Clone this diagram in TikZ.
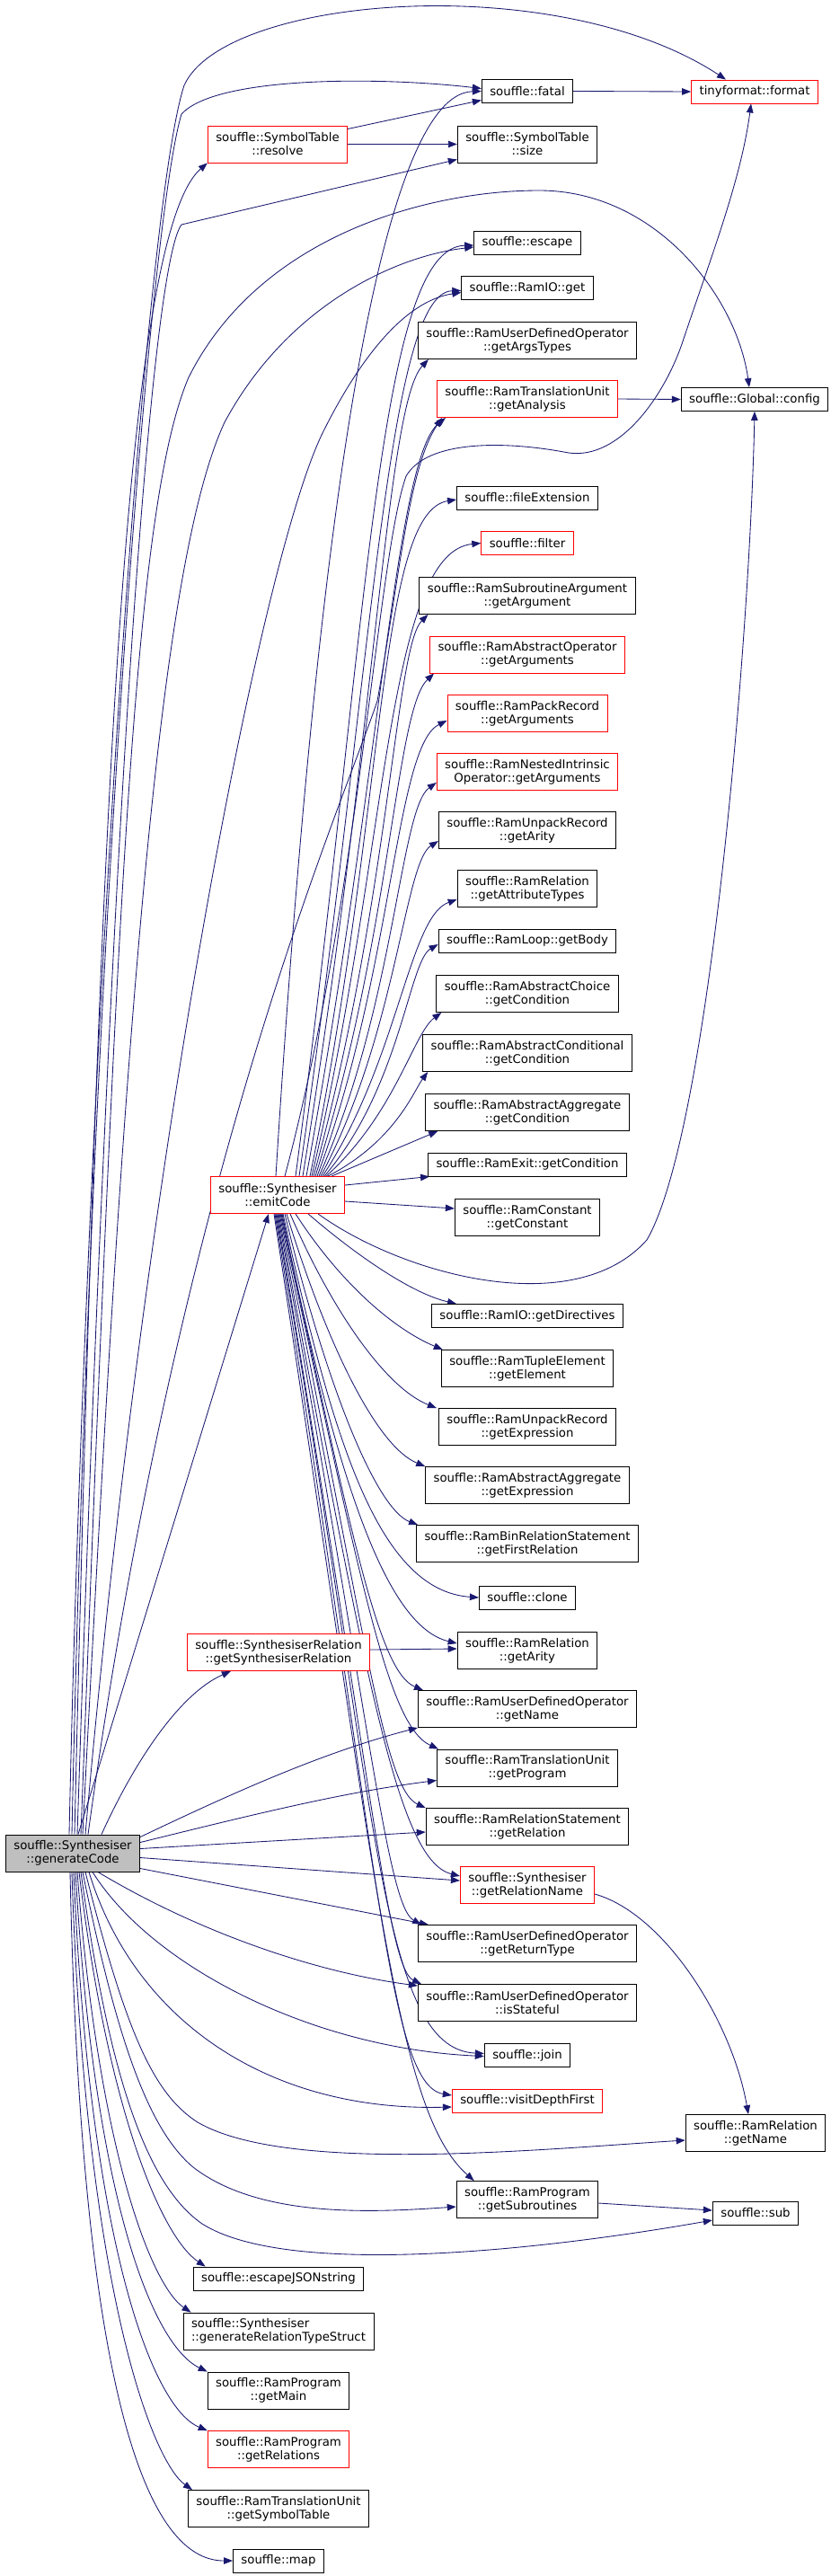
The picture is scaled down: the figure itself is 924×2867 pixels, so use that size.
\documentclass[tikz,border=0pt]{standalone}
\usepackage{fontspec}
\setmainfont{DejaVu Sans}
\usetikzlibrary{arrows.meta,backgrounds}
\definecolor{edgecol}{HTML}{191970}
\definecolor{rootfill}{HTML}{BFBFBF}
\definecolor{redb}{HTML}{FF0000}
\begin{document}
\begin{tikzpicture}[x=1pt,y=-1pt,
  box/.style={draw=black, line width=0.9pt, fill=white, font=\fontsize{13.3}{15}\selectfont, inner xsep=9pt, inner ysep=0pt, align=center},
  one/.style={box, minimum height=26pt},
  two/.style={box, minimum height=41pt},
  trunc/.style={draw=redb},
  rootbox/.style={fill=rootfill},
  e/.style={draw=edgecol, line width=0.85pt, -{Triangle[length=10pt,width=7.5pt]}}]
\useasboundingbox (0,0) rectangle (924,2867);
% root
\node[two,rootbox] (gc) at (81,2062.5) {souffle::Synthesiser\\::generateCode};
% column 2
\node[two,trunc] (res) at (309,160.5) {souffle::SymbolTable\\::resolve};
\node[two,trunc] (ec) at (309,1330) {souffle::Synthesiser\\::emitCode};
\node[two,trunc] (gsr) at (310,1839) {souffle::SynthesiserRelation\\::getSynthesiserRelation};
\node[one] (ejs) at (310,2536) {souffle::escapeJSONstring};
\node[two,align=left] (grts) at (310,2594.5) {souffle::Synthesiser\\::generateRelationTypeStruct};
\node[two] (gmain) at (310,2660.5) {souffle::RamProgram\\::getMain};
\node[two,trunc] (grels) at (310,2726) {souffle::RamProgram\\::getRelations};
\node[two] (gst) at (310,2792) {souffle::RamTranslationUnit\\::getSymbolTable};
\node[one] (map) at (310,2850) {souffle::map};
% column 3
\node[one] (fatal) at (587,101.5) {souffle::fatal};
\node[two] (size) at (587,160.5) {souffle::SymbolTable\\::size};
\node[one] (esc) at (587,270) {souffle::escape};
\node[one] (ioget) at (587,320.5) {souffle::RamIO::get};
\node[two] (argt) at (587,379) {souffle::RamUserDefinedOperator\\::getArgsTypes};
\node[two,trunc] (anal) at (587,444) {souffle::RamTranslationUnit\\::getAnalysis};
\node[one] (fext) at (587,554) {souffle::fileExtension};
\node[one,trunc] (filt) at (587,604.5) {souffle::filter};
\node[two] (garg) at (587,663) {souffle::RamSubroutineArgument\\::getArgument};
\node[two,trunc] (aoargs) at (587,728.5) {souffle::RamAbstractOperator\\::getArguments};
\node[two,trunc] (prargs) at (587,794) {souffle::RamPackRecord\\::getArguments};
\node[two,trunc] (nioargs) at (587,859) {souffle::RamNestedIntrinsic\\Operator::getArguments};
\node[two] (urarity) at (587,924) {souffle::RamUnpackRecord\\::getArity};
\node[two] (attr) at (587,989) {souffle::RamRelation\\::getAttributeTypes};
\node[one] (body) at (587,1047) {souffle::RamLoop::getBody};
\node[two] (chcond) at (587,1106) {souffle::RamAbstractChoice\\::getCondition};
\node[two] (cocond) at (587,1172) {souffle::RamAbstractConditional\\::getCondition};
\node[two] (agcond) at (587,1238) {souffle::RamAbstractAggregate\\::getCondition};
\node[one] (excond) at (587,1296) {souffle::RamExit::getCondition};
\node[two] (const) at (587,1355) {souffle::RamConstant\\::getConstant};
\node[one] (dirs) at (587,1464.5) {souffle::RamIO::getDirectives};
\node[two] (elem) at (587,1523) {souffle::RamTupleElement\\::getElement};
\node[two] (urexpr) at (587,1588) {souffle::RamUnpackRecord\\::getExpression};
\node[two] (agexpr) at (587,1653) {souffle::RamAbstractAggregate\\::getExpression};
\node[two] (first) at (587,1718) {souffle::RamBinRelationStatement\\::getFirstRelation};
\node[one] (clone) at (587,1778) {souffle::clone};
\node[two] (rarity) at (587,1837) {souffle::RamRelation\\::getArity};
\node[two] (udoname) at (587,1902) {souffle::RamUserDefinedOperator\\::getName};
\node[two] (prog) at (587,1967.5) {souffle::RamTranslationUnit\\::getProgram};
\node[two] (rel) at (587,2033) {souffle::RamRelationStatement\\::getRelation};
\node[two,trunc] (relname) at (587,2098) {souffle::Synthesiser\\::getRelationName};
\node[two] (rettype) at (587,2163) {souffle::RamUserDefinedOperator\\::getReturnType};
\node[two] (stateful) at (587,2229) {souffle::RamUserDefinedOperator\\::isStateful};
\node[one] (join) at (587,2287.5) {souffle::join};
\node[one,trunc] (vdf) at (587,2338) {souffle::visitDepthFirst};
\node[two] (subs) at (587,2448) {souffle::RamProgram\\::getSubroutines};
% column 4
\node[one,trunc] (fmt) at (840,102) {tinyformat::format};
\node[one] (cfg) at (840,444.5) {souffle::Global::config};
\node[two] (rname) at (841,2374) {souffle::RamRelation\\::getName};
\node[one] (sub) at (841,2463) {souffle::sub};

\begin{scope}[on background layer]
\fill[white] (0,0) rectangle (924,2867);
% short edges
\draw[e] ([yshift=17pt]res.east) -- ([yshift=-10pt]fatal.west);
\draw[e] (res.east) -- (size.west);
\draw[e] (fatal.east) -- (fmt.west);
\draw[e] (anal.east) -- (cfg.west);
\draw[e] ([yshift=3pt]gsr.east) -- ([yshift=2pt]rarity.west);
\draw[e] ([yshift=-10pt]relname.east) .. controls (740,2130) and (815,2250) .. ([xshift=-8pt]rname.north);
\draw[e] ([yshift=-4pt]subs.east) -- ([yshift=3pt]sub.west);
% emitCode upward
\draw[e] ([xshift=-2pt]ec.north) .. controls (345,700) and (410,105) .. (fatal.west);
\draw[e] ([xshift=8pt]ec.north) .. controls (400,1000) and (420,620) .. (452,530) .. controls (475,490) and (560,490) .. (633,504) .. controls (690,512) and (740,440) .. (760,380) .. controls (790,290) and (825,200) .. ([xshift=-4pt]fmt.south);
\draw[e] ([xshift=20pt]ec.north) .. controls (410,700) and (420,275) .. ([yshift=-3pt]esc.west);
\draw[e] ([xshift=24pt]ec.north) .. controls (415,750) and (430,325) .. ([yshift=-3pt]ioget.west);
\draw[e] ([xshift=28pt]ec.north) .. controls (420,800) and (430,450) .. ([xshift=12pt]argt.south west);
\draw[e] ([xshift=32pt]ec.north) .. controls (425,850) and (440,510) .. ([xshift=10pt]anal.south west);
\draw[e] ([xshift=36pt]ec.north) .. controls (430,900) and (420,570) .. ([yshift=-2pt]fext.west);
\draw[e] ([xshift=38pt]ec.north) .. controls (432,950) and (430,615) .. (filt.west);
\draw[e] ([xshift=40pt]ec.north) .. controls (434,1000) and (440,720) .. ([xshift=10pt]garg.south west);
\draw[e] ([xshift=42pt]ec.north) .. controls (436,1040) and (440,790) .. ([xshift=5pt]aoargs.south west);
\draw[e] ([xshift=44pt]ec.north) .. controls (438,1080) and (440,830) .. ([yshift=-8pt]prargs.west);
\draw[e] ([xshift=46pt]ec.north) .. controls (440,1120) and (445,900) .. ([yshift=-12pt]nioargs.west);
\draw[e] ([xshift=48pt]ec.north) .. controls (442,1150) and (450,960) .. ([yshift=-12pt]urarity.west);
\draw[e] ([xshift=50pt]ec.north) .. controls (444,1180) and (455,1020) .. ([yshift=-12pt]attr.west);
\draw[e] ([xshift=52pt]ec.north) .. controls (446,1210) and (455,1070) .. ([yshift=-4pt]body.west);
\draw[e] ([xshift=54pt]ec.north) .. controls (440,1240) and (460,1150) .. ([xshift=6pt]chcond.south west);
\draw[e] ([xshift=56pt]ec.north) .. controls (440,1270) and (460,1215) .. ([xshift=6pt]cocond.south west);
\draw[e] ([xshift=60pt]ec.north) -- ([xshift=14pt]agcond.south west);
\draw[e] ([yshift=11pt]ec.east) -- ([xshift=2pt]excond.south west);
\draw[e] ([yshift=-7pt]ec.east) -- ([yshift=10pt]const.west);
% emitCode to config (loop below)
\draw[e] ([xshift=45pt]ec.south) .. controls (450,1420) and (640,1470) .. (720,1380) .. controls (790,1260) and (835,700) .. (cfg.south);
% emitCode downward
\draw[e] ([xshift=34pt]ec.south) .. controls (400,1400) and (460,1440) .. ([xshift=28pt]dirs.north west);
\draw[e] ([xshift=20pt]ec.south) .. controls (380,1430) and (440,1480) .. ([xshift=2pt]elem.north west);
\draw[e] ([xshift=14pt]ec.south) .. controls (370,1460) and (430,1545) .. ([xshift=-2pt]urexpr.north west);
\draw[e] ([xshift=10pt]ec.south) .. controls (365,1500) and (420,1610) .. (agexpr.north west);
\draw[e] ([xshift=8pt]ec.south) .. controls (365,1550) and (420,1680) .. ([xshift=2pt]first.north west);
\draw[e] ([xshift=6pt]ec.south) .. controls (370,1600) and (420,1770) .. (clone.west);
\draw[e] ([xshift=5pt]ec.south) .. controls (375,1650) and (430,1810) .. ([yshift=8pt]rarity.west);
\draw[e] ([xshift=4pt]ec.south) .. controls (390,1700) and (420,1860) .. ([xshift=6pt]udoname.north west);
\draw[e] ([xshift=3pt]ec.south) .. controls (400,1750) and (430,1920) .. ([xshift=2pt]prog.north west);
\draw[e] ([xshift=2pt]ec.south) .. controls (405,1800) and (425,1990) .. (rel.north west);
\draw[e] ([xshift=1pt]ec.south) .. controls (405,1850) and (440,2070) .. ([yshift=10pt]relname.west);
\draw[e] (ec.south) .. controls (410,1900) and (430,2120) .. ([xshift=4pt]rettype.north west);
\draw[e] ([xshift=-1pt]ec.south) .. controls (410,1950) and (430,2190) .. ([xshift=4pt]stateful.north west);
\draw[e] ([xshift=-2pt]ec.south) .. controls (420,2000) and (420,2280) .. ([yshift=2pt]join.west);
\draw[e] ([xshift=-3pt]ec.south) .. controls (420,2050) and (430,2320) .. ([yshift=6pt]vdf.west);
\draw[e] ([xshift=-4pt]ec.south) .. controls (420,2100) and (440,2350) .. ([xshift=20pt]subs.north west);
% generateCode upward
\draw[e] ([xshift=-4pt]gc.north) .. controls (95,1200) and (160,230) .. (205,95) .. controls (250,-5) and (620,-35) .. ([xshift=-32pt]fmt.north);
\draw[e] ([xshift=-1pt]gc.north) .. controls (100,1100) and (165,250) .. (202,127) .. controls (240,85) and (420,85) .. ([yshift=3pt]fatal.west);
\draw[e] ([xshift=2pt]gc.north) .. controls (110,900) and (140,260) .. (res.south west);
\draw[e] ([xshift=5pt]gc.north) .. controls (120,1000) and (165,300) .. (202,250) -- ([yshift=4pt]size.south west);
\draw[e] ([xshift=9pt]gc.north) .. controls (130,1000) and (150,560) .. (210,420) .. controls (290,260) and (480,212) .. (600,212) .. controls (730,212) and (820,330) .. ([xshift=-6pt]cfg.north);
\draw[e] ([xshift=11pt]gc.north) .. controls (140,1100) and (180,620) .. (250,470) .. controls (320,340) and (440,285) .. ([yshift=-5pt]esc.west);
\draw[e] ([xshift=14pt]gc.north) .. controls (160,1300) and (290,620) .. (360,480) .. controls (400,400) and (450,335) .. ([yshift=-5pt]ioget.west);
\draw[e] ([xshift=17pt]gc.north) .. controls (200,1300) and (380,900) .. (420,780) .. controls (445,640) and (455,520) .. ([xshift=6pt]anal.south west);
\draw[e] ([xshift=6pt]gc.north) -- ([xshift=-10pt]ec.south);
\draw[e] ([xshift=32pt]gc.north) .. controls (150,1960) and (200,1885) .. ([xshift=49pt]gsr.south west);
% generateCode rightward
\draw[e] ([yshift=18pt]gc.east) .. controls (260,1995) and (360,1950) .. (udoname.south west);
\draw[e] ([yshift=12pt]gc.east) .. controls (280,2020) and (380,1995) .. ([yshift=-14pt]prog.west);
\draw[e] ([yshift=5pt]gc.east) -- ([yshift=-6pt]rel.west);
\draw[e] ([yshift=-5pt]gc.east) -- ([yshift=5pt]relname.west);
\draw[e] ([yshift=-17pt]gc.east) -- ([xshift=12pt]rettype.north west);
\draw[e] ([xshift=28pt]gc.south) .. controls (220,2150) and (350,2195) .. ([yshift=19pt]stateful.west);
\draw[e] ([xshift=22pt]gc.south) .. controls (170,2190) and (350,2280) .. ([yshift=-1pt]join.west);
\draw[e] ([xshift=18pt]gc.south) .. controls (150,2250) and (300,2350) .. ([yshift=-7pt]vdf.west);
\draw[e] ([xshift=14pt]gc.south) .. controls (140,2260) and (170,2330) .. (220,2362) .. controls (320,2420) and (600,2392) .. ([yshift=-8pt]rname.west);
\draw[e] ([xshift=11pt]gc.south) .. controls (130,2270) and (165,2370) .. (215,2412) .. controls (290,2470) and (420,2462) .. ([yshift=-8pt]subs.west);
\draw[e] ([xshift=9pt]gc.south) .. controls (120,2300) and (160,2430) .. (225,2475) .. controls (320,2535) and (600,2505) .. ([yshift=-8pt]sub.west);
% generateCode downward
\draw[e] ([xshift=7pt]gc.south) .. controls (120,2350) and (180,2490) .. ([xshift=14pt]ejs.north west);
\draw[e] ([xshift=5pt]gc.south) .. controls (110,2400) and (170,2545) .. ([xshift=9pt]grts.north west);
\draw[e] ([xshift=3pt]gc.south) .. controls (105,2450) and (170,2610) .. (gmain.north west);
\draw[e] ([xshift=1pt]gc.south) .. controls (100,2500) and (170,2680) .. (grels.north west);
\draw[e] ([xshift=-1pt]gc.south) .. controls (95,2550) and (170,2740) .. ([xshift=5pt]gst.north west);
\draw[e] ([xshift=-3pt]gc.south) .. controls (90,2650) and (160,2850) .. (map.west);
\end{scope}
\end{tikzpicture}
\end{document}
